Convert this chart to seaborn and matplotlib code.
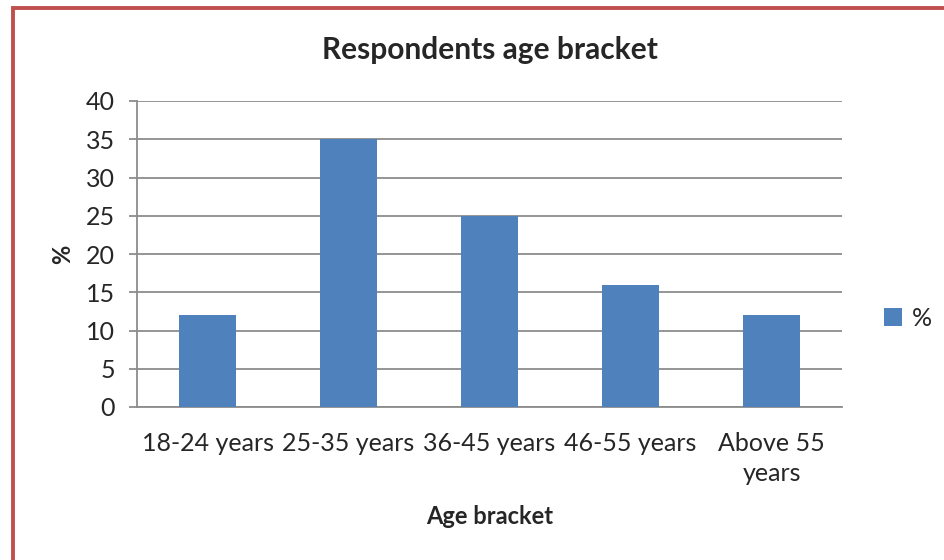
import pandas as pd
import numpy as np
import matplotlib.pyplot as plt
import seaborn as sns
from matplotlib.patches import Rectangle

# survey data: share of respondents per age bracket
age_brackets = ['18-24 years', '25-35 years', '36-45 years', '46-55 years', 'Above 55\nyears']
percent = [12, 35, 25, 16, 12]

df = pd.DataFrame({'Age bracket': age_brackets, '%': percent})

sns.set_style('white')
plt.rcParams['font.family'] = ['Lato', 'DejaVu Sans']

fig = plt.figure(figsize=(9.45, 5.6), dpi=100)
ax = fig.add_axes([137 / 945, 1 - 407 / 560, 705 / 945, 306 / 560])

sns.barplot(data=df, x='Age bracket', y='%', color='#4F81BD', width=0.4,
            saturation=1, label='%', ax=ax, zorder=3, linewidth=0, edgecolor='none')

ax.set_ylim(0, 40)
ax.set_yticks(np.arange(0, 41, 5))
ax.set_xlim(-0.5, len(age_brackets) - 0.5)
ax.yaxis.grid(True, color='#8c8c8c', linewidth=1.3, zorder=0)
ax.set_axisbelow(True)
for side in ['top', 'right']:
    ax.spines[side].set_visible(False)
for side in ['left', 'bottom']:
    ax.spines[side].set_color('#8c8c8c')
    ax.spines[side].set_linewidth(1.3)

ax.tick_params(axis='y', length=6, width=1.3, color='#8c8c8c', pad=10, labelsize=18, left=True)
ax.tick_params(axis='x', length=0, pad=18, labelsize=18)
for lbl in ax.get_xticklabels():
    lbl.set_linespacing(1.35)

ax.set_title('Respondents age bracket', fontsize=21.5, fontweight='bold', pad=30)
ax.set_xlabel('Age bracket', fontsize=17, fontweight='bold', labelpad=15)
ax.set_ylabel('%', fontsize=17, fontweight='bold', labelpad=8)

leg = ax.legend(loc='center left', bbox_to_anchor=(862 / 945, 1 - 318 / 560),
                bbox_transform=fig.transFigure, frameon=False, fontsize=18,
                handlelength=0.7, handleheight=0.7, handletextpad=0.4)

# red outer frame
fig.patches.append(Rectangle((13 / 945, -0.1), 1.2, 1 - 8 / 560 + 0.1,
                             transform=fig.transFigure, fill=False,
                             edgecolor='#C0504D', linewidth=2.8))

plt.savefig('out.png', dpi=100)
